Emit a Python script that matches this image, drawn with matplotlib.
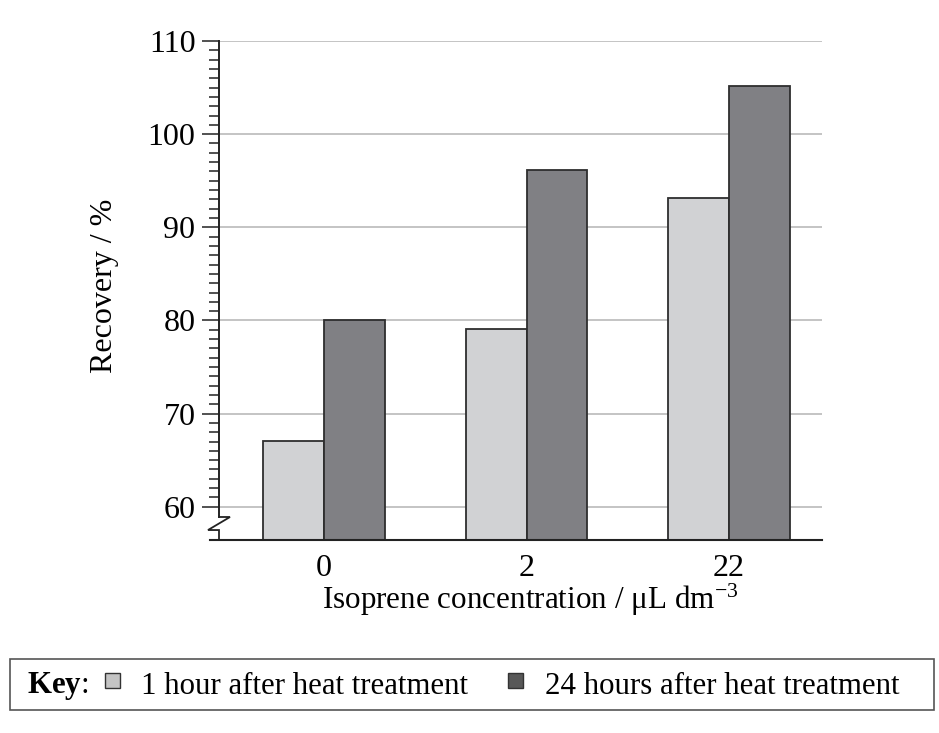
import matplotlib
matplotlib.use("Agg")
import matplotlib.pyplot as plt
from matplotlib.patches import Rectangle
from matplotlib.lines import Line2D
import matplotlib.transforms as mtransforms
import numpy as np

# ---- data ----
categories = ["0", "2", "22"]
series_names = ["1 hour after heat treatment", "24 hours after heat treatment"]
recovery_1h = [67.1, 79.1, 93.1]
recovery_24h = [80.0, 96.2, 105.2]
y_major_ticks = [60, 70, 80, 90, 100, 110]
y_minor_ticks = [v for v in range(61, 110) if v % 10 != 0]

plt.rcParams['font.family'] = ['Liberation Serif', 'DejaVu Serif']
plt.rcParams['mathtext.fontset'] = 'custom'
plt.rcParams['mathtext.rm'] = 'Liberation Serif'
plt.rcParams['mathtext.it'] = 'Liberation Serif:italic'
plt.rcParams['mathtext.bf'] = 'Liberation Serif:bold'

W, H = 939, 733
fig = plt.figure(figsize=(W / 100, H / 100), dpi=100)

# axes placement (pixels)
axL, axR, axT, axB = 219, 822, 41, 540
ax = fig.add_axes([axL / W, 1 - axB / H, (axR - axL) / W, (axB - axT) / H])

light = "#d1d2d4"
dark = "#808084"
edge = "#2e2e2e"

x = np.arange(len(categories))
bw = 0.301
ax.bar(x - bw / 2, recovery_1h, width=bw, color=light, edgecolor=edge,
       linewidth=1.3, zorder=3, label=series_names[0])
ax.bar(x + bw / 2, recovery_24h, width=bw, color=dark, edgecolor=edge,
       linewidth=1.3, zorder=3, label=series_names[1])

ymin, ymax = 56.43, 110
ax.set_ylim(ymin, ymax)
ax.set_xlim(-0.5185, 2.459)

ax.set_yticks(y_major_ticks)
ax.set_yticks(y_minor_ticks, minor=True)
ax.set_xticks(x)
ax.set_xticklabels(categories)

ax.tick_params(axis='y', which='major', length=12.5, width=1.1, color='#222222',
               labelsize=23, pad=4.5)
ax.tick_params(axis='y', which='minor', length=7.5, width=1.1, color='#222222')
ax.tick_params(axis='x', which='both', length=0, labelsize=23, pad=10)

# gridlines
for yv in y_major_ticks:
    ax.axhline(yv, color='#b4b4b4', linewidth=1.1, zorder=1)

for s in ['top', 'right', 'left', 'bottom']:
    ax.spines[s].set_visible(False)

# custom left spine with break
axw = axR - axL
axh = axB - axT
trans = mtransforms.blended_transform_factory(ax.transAxes, ax.transData)
dx_r = 11 / axw
dx_l = -11 / axw
y_brk_top = 58.9
y_brk_bot = 57.5
ax.add_line(Line2D([0, 0], [ymax, y_brk_top], transform=trans, color='#222222',
                   linewidth=1.4, clip_on=False, zorder=4))
ax.add_line(Line2D([0, dx_r, dx_l, 0, 0], [y_brk_top, y_brk_top, y_brk_bot, y_brk_bot, ymin],
                   transform=trans, color='#222222', linewidth=1.3, clip_on=False, zorder=4,
                   solid_joinstyle='miter'))
# bottom spine (extends slightly left)
ax.add_line(Line2D([-9 / axw, 1], [0, 0], transform=ax.transAxes, color='#222222',
                   linewidth=1.5, clip_on=False, zorder=4))

ax.set_ylabel("Recovery / %", fontsize=23)
ax.yaxis.set_label_coords((119 - axL) / axw, 0.5 + 5 / axh)
ax.set_xlabel("Isoprene concentration / μL dm$^{-3}$", fontsize=22.4)
ax.xaxis.set_label_coords((530 - axL) / axw, (axB - 582) / axh)

# ---- key box ----
def fx(px):
    return px / W

def fy(py):
    return 1 - py / H

fig.add_artist(Rectangle((fx(10), fy(710)), fx(934) - fx(10), fy(659) - fy(710),
                         transform=fig.transFigure, fill=False, edgecolor='#555555',
                         linewidth=1.2))
ty = fy(686)
fs_key = 22.2
fig.text(fx(27), ty, r"$\mathbf{Key}$:", fontsize=fs_key, ha='left', va='center')
sq = 15
fig.add_artist(Rectangle((fx(105), fy(688)), sq / W, sq / H, transform=fig.transFigure,
                         facecolor='#c4c4c4', edgecolor='#333333', linewidth=1.0))
fig.text(fx(141), ty, series_names[0], fontsize=fs_key, ha='left', va='center')
fig.add_artist(Rectangle((fx(508), fy(688)), sq / W, sq / H, transform=fig.transFigure,
                         facecolor='#585858', edgecolor='#333333', linewidth=1.0))
fig.text(fx(545), ty, series_names[1], fontsize=fs_key, ha='left', va='center')

fig.savefig("out.png", dpi=100)
